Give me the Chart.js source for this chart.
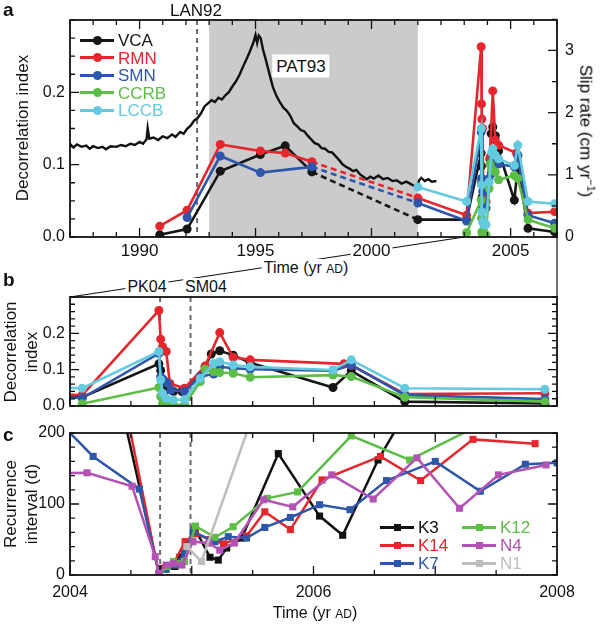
<!DOCTYPE html>
<html><head><meta charset="utf-8">
<script src="https://cdn.jsdelivr.net/npm/chart.js@4"></script>
<style>
body{margin:0;background:#fff;}
#wrap{position:relative;width:600px;height:624px;background:#fff;overflow:hidden;font-family:"Liberation Sans",Arial,Helvetica,sans-serif;color:#111;}
canvas{position:absolute;left:0;}
.t{position:absolute;white-space:nowrap;line-height:1;font-size:16px;color:#111;font-weight:normal;}
.c{transform:translate(-50%,-50%);}
.rl{transform:translate(-50%,-50%) rotate(-90deg);text-align:center;}
.rr{transform:translate(-50%,-50%) rotate(90deg);text-align:center;}
.bg{background:#fff;padding:1px 2px;}
.pl{font-weight:bold;font-size:19px;}
.sc{font-size:12px;}
</style></head>
<body><div id="wrap">
<canvas id="cA" width="600" height="300" style="top:0"></canvas>
<canvas id="cB" width="600" height="145" style="top:280px"></canvas>
<canvas id="cC" width="600" height="209" style="top:415px"></canvas>

<div class="t pl" style="left:3px;top:0px">a</div>
<div class="t pl" style="left:3px;top:270px">b</div>
<div class="t pl" style="left:3px;top:425px">c</div>
<div class="t c" style="left:196px;top:10px;font-size:17px">LAN92</div>
<div class="t c bg" style="left:301px;top:66px;padding:3px 4px;font-size:17px">PAT93</div>
<div class="t rl" style="left:22px;top:128px;font-size:17px">Decorrelation index</div>
<div class="t rr" style="left:587px;top:131px;font-size:17px;color:#000">Slip rate (cm yr<sup style="font-size:11px">−1</sup>)</div>
<div class="t c bg" style="left:306px;top:268px">Time (yr <span class="sc">AD</span>)</div>
<div class="t c bg" style="left:147px;top:287px">PK04</div>
<div class="t c bg" style="left:206px;top:287px">SM04</div>
<div class="t rl" style="left:21px;top:352px;font-size:17px;line-height:21px">Decorrelation<br>index</div>
<div class="t rl" style="left:21px;top:504px;font-size:17px;line-height:21px">Recurrence<br>interval (d)</div>
<div class="t c" style="left:315px;top:613px">Time (yr <span class="sc">AD</span>)</div>
</div>
<script>
// ---------- DATA ----------
// Panel a: slip rate (cm/yr), right axis
const slipYears = [1987.0,1987.15,1987.3,1987.5,1987.7,1987.85,1988.0,1988.2,1988.4,1988.55,1988.75,1989.0,1989.2,1989.4,1989.6,1989.8,1990.0,1990.15,1990.3,1990.35,1990.42,1990.6,1990.8,1991.0,1991.2,1991.4,1991.55,1991.75,1991.9,1992.05,1992.2,1992.35,1992.5,1992.65,1992.8,1992.95,1993.1,1993.25,1993.4,1993.55,1993.7,1993.85,1994.0,1994.15,1994.3,1994.45,1994.6,1994.75,1994.9,1995.0,1995.07,1995.14,1995.22,1995.32,1995.45,1995.6,1995.75,1995.9,1996.05,1996.2,1996.35,1996.5,1996.65,1996.8,1996.95,1997.1,1997.25,1997.4,1997.55,1997.7,1997.85,1998.0,1998.15,1998.3,1998.45,1998.6,1998.75,1998.9,1999.05,1999.2,1999.35,1999.5,1999.65,1999.8,1999.95,2000.1,2000.3,2000.5,2000.7,2000.9,2001.1,2001.3,2001.5,2001.7,2001.85,2001.97,2002.05,2002.15,2002.3,2002.45,2002.6,2002.8];
const slipRate = [1.50,1.44,1.49,1.45,1.47,1.42,1.46,1.43,1.45,1.41,1.46,1.45,1.48,1.46,1.50,1.48,1.53,1.50,1.57,1.75,1.58,1.60,1.56,1.62,1.59,1.65,1.61,1.69,1.66,1.74,1.79,1.87,1.91,1.99,2.10,2.15,2.20,2.17,2.24,2.21,2.28,2.33,2.42,2.50,2.60,2.73,2.85,2.98,3.12,3.25,3.12,3.24,3.20,3.02,2.84,2.62,2.41,2.27,2.17,2.08,2.03,1.95,1.83,1.78,1.72,1.70,1.63,1.57,1.51,1.49,1.43,1.42,1.37,1.36,1.30,1.24,1.17,1.13,1.10,1.06,1.08,1.01,0.97,0.93,0.97,0.94,0.99,0.93,0.95,0.90,0.91,0.86,0.89,0.85,0.82,0.79,0.91,0.95,0.90,0.93,0.89,0.90];

// Decorrelation index per station (panels a and b)
const vcaYears = [1990.87,1992.05,1993.48,1995.21,1996.28,1997.43,2002.0,2004.1,2004.73,2004.745,2004.755,2004.77,2004.79,2004.85,2004.92,2005.11,2005.16,2005.23,2005.34,2005.48,2006.16,2006.31,2006.75,2007.9];
const vcaIndex = [0.003,0.011,0.091,0.114,0.126,0.090,0.024,0.024,0.116,0.098,0.075,0.055,0.045,0.040,0.040,0.107,0.143,0.152,0.140,0.119,0.051,0.097,0.012,0.007];
const rmnYears = [1990.87,1992.05,1993.48,1995.21,1996.28,1997.43,2002.0,2004.1,2004.73,2004.745,2004.76,2004.79,2004.82,2004.94,2005.11,2005.23,2005.34,2005.48,2006.25,2006.31,2006.75,2007.9];
const rmnIndex = [0.015,0.037,0.128,0.119,0.116,0.104,0.054,0.030,0.263,0.184,0.163,0.150,0.062,0.049,0.110,0.202,0.134,0.127,0.116,0.112,0.033,0.035];
const smnYears = [1992.05,1993.48,1995.21,1997.43,2002.0,2004.1,2004.73,2004.745,2004.77,2004.8,2004.83,2004.94,2005.07,2005.18,2005.23,2005.34,2005.48,2006.16,2006.31,2006.75,2007.9];
const smnIndex = [0.027,0.112,0.089,0.097,0.047,0.022,0.145,0.081,0.072,0.063,0.044,0.040,0.081,0.088,0.108,0.104,0.101,0.097,0.113,0.030,0.019];
const ccrbYears = [2004.1,2004.73,2004.745,2004.76,2004.79,2004.85,2004.94,2005.07,2005.11,2005.18,2005.23,2005.34,2005.48,2006.16,2006.31,2006.75,2007.9];
const ccrbIndex = [0.006,0.051,0.026,0.007,0.003,0.003,0.003,0.067,0.101,0.094,0.092,0.090,0.079,0.085,0.081,0.024,0.012];
const lccbYears = [2002.0,2004.1,2004.73,2004.745,2004.76,2004.79,2004.85,2004.94,2005.07,2005.18,2005.23,2005.34,2005.48,2006.16,2006.31,2006.75,2007.9];
const lccbIndex = [0.069,0.049,0.150,0.072,0.035,0.021,0.017,0.017,0.076,0.117,0.122,0.113,0.108,0.099,0.127,0.049,0.046];

// Panel c: recurrence interval (days)
const k3Years = [2004.3,2004.733,2004.753,2004.807,2004.862,2004.903,2005.027,2005.15,2005.218,2005.287,2005.41,2005.711,2006.05,2006.24,2006.53,2006.8];
const k3Days = [330,1,9,12,12,25,65,25,21,38,52,171,83,56,162,241];
const k14Years = [2004.3,2004.73,2004.78,2004.85,2004.945,2005.03,2005.15,2005.26,2005.45,2005.6,2005.81,2006.07,2006.55,2006.88,2007.31,2007.82];
const k14Days = [370,1,10,16,47,58,50,44,55,89,64,134,167,133,191,185];
const k7Years = [2003.8,2004.19,2004.57,2004.73,2004.79,2004.86,2004.94,2005.01,2005.19,2005.3,2005.45,2005.6,2005.81,2006.05,2006.3,2006.6,2007.0,2007.37,2007.74,2008.0];
const k7Days = [235,167,121,2,8,14,30,61,47,54,52,67,81,99,92,133,160,118,156,158];
const k12Years = [2004.73,2004.8,2004.85,2004.94,2005.03,2005.19,2005.34,2005.62,2005.87,2006.31,2006.79,2007.5];
const k12Days = [1,12,19,19,69,53,68,108,117,196,162,223];
const n4Years = [2003.8,2004.14,2004.51,2004.7,2004.73,2004.79,2004.85,2004.92,2005.01,2005.14,2005.23,2005.35,2005.59,2005.83,2006.15,2006.49,2006.85,2007.2,2007.52,2007.91];
const n4Days = [143,144,125,26,2,14,16,14,47,45,35,45,106,96,141,107,165,94,141,155];
const n1Years = [2004.96,2005.08,2005.6];
const n1Days = [40,19,273];

// Events and ticks
const shadeYears = [1993.0, 2002.0];        // PAT93 period
const lan92Year = 1992.48;
const eventYears = [2004.74, 2004.99];       // PK04, SM04
const dashedSpan = [1997.4, 2002.01];
const aTickYears = [1990, 1995, 2000, 2006];
const aTickLabels = ['1990', '1995', '2000', '2005'];
const aLeftTicks = [0, 0.1, 0.2];
const aRightTicks = [0, 1, 2, 3];
const bLeftTicks = [0, 0.1, 0.2];
const cTickYears = [2004, 2006, 2008];
const cTickLabels = ['2004', '2006', '2008'];
const cLeftTicks = [0, 100, 200];

const stationLabels = ['VCA','RMN','SMN','CCRB','LCCB'];
const stationColors = ['#161616','#e5262c','#2e56aa','#5cbd47','#63cae0'];
const recLabels = ['K3','K14','K7','K12','N4','N1'];
const recColors = ['#111111','#e5262c','#2e56aa','#5cbd47','#b352b4','#bdbdbd'];

// ---------- HELPERS ----------
const range = (a, b, s) => { const r = []; for (let v = a; v <= b + 1e-9; v += s) r.push(+v.toFixed(4)); return r; };
const pts = (xs, ys) => xs.map((x, i) => ({x, y: ys[i]}));
Chart.defaults.font.family = '"Liberation Sans", Arial, Helvetica, sans-serif';
Chart.defaults.font.size = 16;
Chart.defaults.color = '#111';

const framePlugin = {
  id: 'frame',
  afterDatasetsDraw(chart, args, o) {
    const {ctx, chartArea: a} = chart;
    const xs = chart.scales.x, yl = chart.scales[o.yl], yr = chart.scales[o.yr];
    ctx.save();
    ctx.strokeStyle = '#111'; ctx.lineWidth = 1.3; ctx.setLineDash([]);
    ctx.beginPath();
    const vx = (vals, len) => vals.forEach(v => {
      const p = xs.getPixelForValue(v);
      ctx.moveTo(p, a.bottom); ctx.lineTo(p, a.bottom - len);
      if (o.top) { ctx.moveTo(p, a.top); ctx.lineTo(p, a.top + len); }
    });
    const vy = (sc, vals, len, side) => vals.forEach(v => {
      const p = sc.getPixelForValue(v);
      if (side === 'l') { ctx.moveTo(a.left, p); ctx.lineTo(a.left + len, p); }
      else { ctx.moveTo(a.right, p); ctx.lineTo(a.right - len, p); }
    });
    vx(o.xMajor, 9); vx(o.xMinor, 5);
    vy(yl, o.ylMajor, 9, 'l'); vy(yl, o.ylMinor, 5, 'l');
    vy(yr, o.yrMajor, 9, 'r'); vy(yr, o.yrMinor, 5, 'r');
    ctx.stroke();
    ctx.lineWidth = 1.8;
    ctx.strokeRect(a.left, a.top, a.right - a.left, a.bottom - a.top);
    ctx.restore();
  }
};
const bandPlugin = {
  id: 'bands',
  beforeDatasetsDraw(chart, args, o) {
    const {ctx, chartArea: a, scales: {x}} = chart;
    ctx.save();
    (o.shade || []).forEach(([s, e]) => {
      const x0 = x.getPixelForValue(s), x1 = x.getPixelForValue(e);
      ctx.fillStyle = '#cbcbcb'; ctx.fillRect(x0, a.top, x1 - x0, a.bottom - a.top);
    });
    ctx.strokeStyle = '#6c6c6c'; ctx.lineWidth = 2; ctx.setLineDash([5, 4]);
    (o.dashed || []).forEach(v => {
      const p = x.getPixelForValue(v);
      ctx.beginPath(); ctx.moveTo(p, a.top); ctx.lineTo(p, a.bottom); ctx.stroke();
    });
    ctx.restore();
  }
};
const linkPlugin = {
  id: 'link',
  beforeDraw(chart, args, o) {
    if (!o.on) return;
    const {ctx, chartArea: a, scales: {x}} = chart;
    const x0 = x.getPixelForValue(o.from), x1 = x.getPixelForValue(o.to);
    ctx.save(); ctx.strokeStyle = '#111'; ctx.lineWidth = 1.2;
    ctx.beginPath();
    ctx.moveTo(a.left, o.y); ctx.lineTo(x0, a.bottom);
    ctx.moveTo(x1, a.bottom); ctx.lineTo(x1, o.y);
    ctx.stroke(); ctx.restore();
  }
};

function stationSets() {
  const xs = [vcaYears, rmnYears, smnYears, ccrbYears, lccbYears];
  const ys = [vcaIndex, rmnIndex, smnIndex, ccrbIndex, lccbIndex];
  const order = [4, 3, 2, 1, 0];
  return order.map(i => ({
    label: stationLabels[i], data: pts(xs[i], ys[i]), yAxisID: 'y',
    borderColor: stationColors[i], backgroundColor: stationColors[i],
    borderWidth: 2.6, pointRadius: 4.5, pointHoverRadius: 4.5, pointBorderWidth: 0, tension: 0,
    segment: {borderDash: c => (c.p0.parsed.x >= dashedSpan[0] && c.p1.parsed.x <= dashedSpan[1]) ? [6, 4] : undefined}
  }));
}
const fixW = w => s => { s.width = w; };
const fixH = h => s => { s.height = h; };
const setTicks = vals => s => { s.ticks = vals.map(v => ({value: v})); };
const baseOpts = {animation: false, responsive: false, devicePixelRatio: 1, events: []};
const noGrid = {display: false, drawTicks: false};

// ---------- PANEL A ----------
new Chart(document.getElementById('cA'), {
  type: 'line',
  data: {datasets: [
    ...stationSets(),
    {label: 'slip', data: pts(slipYears, slipRate), yAxisID: 'y2', borderColor: '#111', borderWidth: 2.4, pointRadius: 0, tension: 0}
  ]},
  options: {...baseOpts,
    layout: {padding: {top: 20, left: 0, right: 0, bottom: 0}},
    plugins: {legend: {display: false}, tooltip: {enabled: false},
      bands: {shade: [shadeYears], dashed: [lan92Year]},
      link: {on: true, from: 2004, to: 2008, y: 297},
      frame: {yl: 'y', yr: 'y2', top: true, xMajor: aTickYears, xMinor: range(1987, 2008, 1),
        ylMajor: [0.1, 0.2], ylMinor: range(0, 0.3, 0.025), yrMajor: [1, 2, 3], yrMinor: range(0, 3.5, 0.5)}},
    scales: {
      x: {type: 'linear', min: 1987, max: 2008, afterFit: fixH(63), afterBuildTicks: setTicks(aTickYears),
        grid: noGrid, border: {display: false},
        ticks: {padding: 4, autoSkip: false, maxRotation: 0, font: {size: 17}, callback: (v, i) => aTickLabels[i],
          showLabelBackdrop: true, backdropColor: '#fff', backdropPadding: 2}},
      y: {position: 'left', min: 0, max: 0.3, afterFit: fixW(70), afterBuildTicks: setTicks(aLeftTicks),
        grid: noGrid, border: {display: false}, ticks: {padding: 5, callback: v => v.toFixed(1)}},
      y2: {position: 'right', min: 0, max: 3.49, afterFit: fixW(43), afterBuildTicks: setTicks(aRightTicks),
        grid: noGrid, border: {display: false}, ticks: {padding: 8, callback: v => String(v)}}
    }
  },
  plugins: [bandPlugin, linkPlugin, framePlugin]
});

// ---------- PANEL B ----------
new Chart(document.getElementById('cB'), {
  type: 'line',
  data: {datasets: stationSets()},
  options: {...baseOpts,
    layout: {padding: {top: 17, left: 0, right: 43, bottom: 0}},
    plugins: {legend: {display: false}, tooltip: {enabled: false},
      bands: {dashed: eventYears},
      frame: {yl: 'y', yr: 'y', top: false, xMajor: range(2004, 2008, 1), xMinor: range(2004.5, 2007.5, 1),
        ylMajor: [0.1, 0.2], ylMinor: range(0, 0.3, 0.02), yrMajor: [0.1, 0.2], yrMinor: range(0, 0.3, 0.02)}},
    scales: {
      x: {type: 'linear', min: 2004, max: 2008, afterFit: fixH(19), grid: noGrid, border: {display: false},
        ticks: {display: false}},
      y: {position: 'left', min: 0, max: 0.3, afterFit: fixW(70), afterBuildTicks: setTicks(bLeftTicks),
        grid: noGrid, border: {display: false}, ticks: {padding: 5, callback: v => v.toFixed(1)}}
    }
  },
  plugins: [bandPlugin, framePlugin]
});

// ---------- PANEL C ----------
const recX = [k3Years, k14Years, k7Years, k12Years, n4Years, n1Years];
const recY = [k3Days, k14Days, k7Days, k12Days, n4Days, n1Days];
new Chart(document.getElementById('cC'), {
  type: 'line',
  data: {datasets: [5, 4, 3, 2, 1, 0].map(i => ({
    label: recLabels[i], data: pts(recX[i], recY[i]),
    borderColor: recColors[i], backgroundColor: recColors[i], borderWidth: 2.5,
    pointStyle: 'rect', pointRadius: 5, pointHoverRadius: 5, pointBorderWidth: 0, tension: 0
  }))},
  options: {...baseOpts,
    layout: {padding: {top: 18, left: 0, right: 43, bottom: 0}},
    plugins: {legend: {display: false}, tooltip: {enabled: false},
      bands: {dashed: eventYears},
      frame: {yl: 'y', yr: 'y', top: true, xMajor: range(2004, 2008, 1), xMinor: range(2004.5, 2007.5, 1),
        ylMajor: [100], ylMinor: range(0, 200, 20), yrMajor: [100], yrMinor: range(0, 200, 20)}},
    scales: {
      x: {type: 'linear', min: 2004, max: 2008, afterFit: fixH(49), afterBuildTicks: setTicks(cTickYears),
        grid: noGrid, border: {display: false},
        ticks: {padding: 8, autoSkip: false, maxRotation: 0, callback: (v, i) => cTickLabels[i]}},
      y: {position: 'left', min: 0, max: 200, afterFit: fixW(70), afterBuildTicks: setTicks(cLeftTicks),
        grid: noGrid, border: {display: false}, ticks: {padding: 5, callback: v => String(v)}}
    }
  },
  plugins: [bandPlugin, framePlugin]
});

// ---------- LEGENDS (HTML) ----------
function legendRow(x, y, label, color, square) {
  const wrap = document.getElementById('wrap');
  const ln = document.createElement('div');
  ln.style.cssText = `position:absolute;left:${x}px;top:${y - 1.5}px;width:34px;height:3px;background:${color}`;
  const mk = document.createElement('div');
  const s = square ? 7 : 9;
  mk.style.cssText = `position:absolute;left:${x + 17 - s / 2}px;top:${y - s / 2}px;width:${s}px;height:${s}px;background:${color};border-radius:${square ? 0 : 50}%`;
  const tx = document.createElement('div');
  tx.className = 't';
  tx.textContent = label;
  tx.style.cssText += `left:${x + 38}px;top:${y}px;transform:translateY(-50%);color:${color};font-size:17px`;
  wrap.append(ln, mk, tx);
}
stationLabels.forEach((l, i) => legendRow(80, 40 + i * 17.5, l, stationColors[i], false));
[0, 1, 2].forEach(i => legendRow(380, 527 + i * 18, recLabels[i], recColors[i], true));
[3, 4, 5].forEach((k, i) => legendRow(462, 527 + i * 18, recLabels[k], recColors[k], true));
</script>
</body></html>
